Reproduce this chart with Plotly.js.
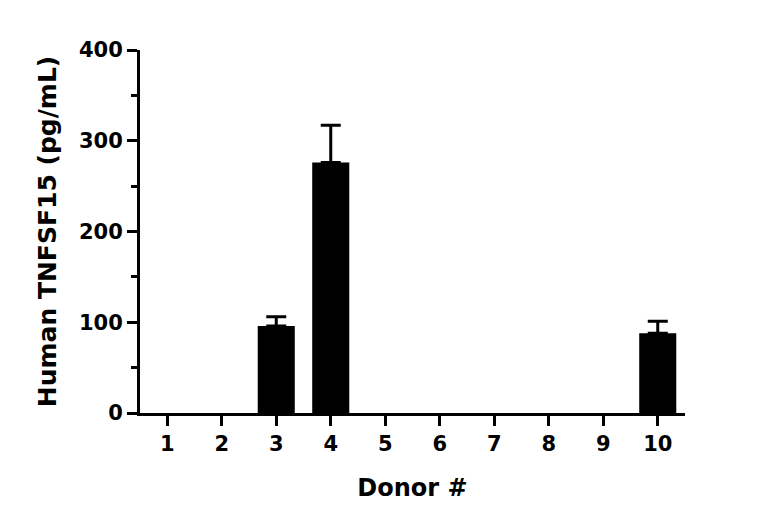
<!DOCTYPE html>
<html>
<head>
<meta charset="utf-8">
<script src="https://cdn.plot.ly/plotly-3.0.1.min.js"></script>
<style>html,body{margin:0;padding:0;background:#fff}#chart{width:768px;height:530px}</style>
</head>
<body>
<div id="chart"></div>
<script>
const donors = ['1','2','3','4','5','6','7','8','9','10'];
const concentration = [0, 0, 96, 276, 0, 0, 0, 0, 0, 88];
const errorUpper = [0, 0, 10, 41, 0, 0, 0, 0, 0, 13];
const yTickVals = [0, 100, 200, 300, 400];

const FONT = '"DejaVu Sans", sans-serif';

// Donors with no detectable level draw no bar and no error bar
const plotY = concentration.map(v => v > 0 ? v : null);

const trace = {
  type: 'bar',
  x: donors,
  y: plotY,
  width: 0.68,
  marker: {color: '#000000', line: {width: 0}},
  error_y: {
    type: 'data',
    array: errorUpper,
    arrayminus: errorUpper.map(() => 0),
    symmetric: false,
    color: '#000000',
    thickness: 3,
    width: 10
  },
  hoverinfo: 'skip'
};

const layout = {
  width: 768,
  height: 530,
  paper_bgcolor: '#ffffff',
  plot_bgcolor: '#ffffff',
  margin: {l: 140, r: 83, t: 50, b: 117},
  showlegend: false,
  font: {family: FONT, color: '#000000', size: 20},
  xaxis: {
    type: 'category',
    range: [-0.5, 9.5],
    showline: true,
    linecolor: '#000000',
    linewidth: 3,
    ticks: 'outside',
    ticklen: 10,
    tickwidth: 3,
    tickcolor: '#000000',
    tickfont: {family: FONT, size: 21, weight: 'bold'},
    showgrid: false,
    zeroline: false,
    title: {text: 'Donor #', font: {family: FONT, size: 24, weight: 'bold'}, standoff: 24}
  },
  yaxis: {
    range: [0, 400],
    tickvals: yTickVals,
    showline: true,
    linecolor: '#000000',
    linewidth: 3,
    ticks: 'outside',
    ticklen: 10,
    tickwidth: 3,
    tickcolor: '#000000',
    tickfont: {family: FONT, size: 21, weight: 'bold'},
    minor: {dtick: 50, ticks: 'outside', ticklen: 6, tickwidth: 3, tickcolor: '#000000', showgrid: false},
    showgrid: false,
    zeroline: false,
    title: {text: 'Human TNFSF15 (pg/mL)', font: {family: FONT, size: 25, weight: 'bold'}, standoff: 16}
  }
};

Plotly.newPlot('chart', [trace], layout, {displayModeBar: false, staticPlot: true});
</script>
</body>
</html>
